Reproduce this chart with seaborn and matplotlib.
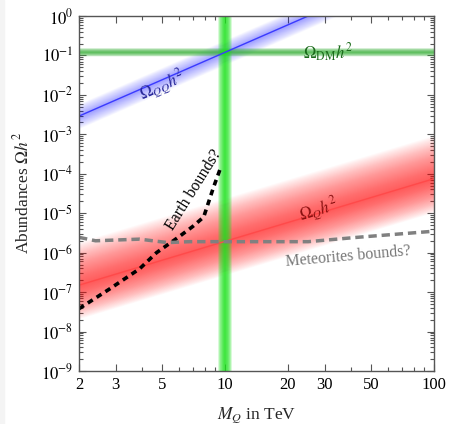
import numpy as np
import seaborn as sns
import matplotlib
matplotlib.use('Agg')
from matplotlib import pyplot as plt
from matplotlib import ticker
from matplotlib.patches import Rectangle

# abundance curves (mass in TeV, Omega h^2)
qq_mass = [2.0, 25.0]
qq_abund = [2.9e-3, 1.0]

q_mass = [2.0, 100.0]
q_abund = [1.5e-7, 7.5e-5]

dm_abund = 0.12
mass_mark = 10.0

earth_mass = [2.0, 2.8, 3.9, 4.7, 6.0, 7.0, 7.9, 8.8, 9.6]
earth_abund = [3.8e-8, 1.2e-7, 3.9e-7, 1.0e-6, 2.5e-6, 4.6e-6, 8.0e-6, 4.5e-5, 1.6e-4]

meteor_mass = [2.0, 2.4, 3.9, 5.3, 6.8, 10.0, 25.0, 43.0, 100.0]
meteor_abund = [2.45e-6, 2.0e-6, 2.2e-6, 1.8e-6, 1.9e-6, 1.9e-6, 1.9e-6, 2.45e-6, 3.5e-6]

x_ticks = [2, 3, 5, 10, 20, 30, 50, 100]
x_minor = [4, 6, 7, 8, 9, 40, 60, 70, 80, 90]
y_exps = [0, -1, -2, -3, -4, -5, -6, -7, -8, -9]

sns.set_theme(style='ticks')
plt.rcParams['font.family'] = ['Liberation Serif', 'DejaVu Serif']
plt.rcParams['mathtext.fontset'] = 'stix'


def band(ax, x, y, color, up, down, n=40, alpha=0.025):
    # soft blurred band around a power-law line, built from stacked fills
    x = np.asarray(x)
    y = np.asarray(y)
    for t in np.linspace(1.0, 0.02, n):
        ax.fill_between(x, y * 10 ** (-down * t), y * 10 ** (up * t),
                        color=color, alpha=alpha, lw=0)


fig = plt.figure(figsize=(4.5, 4.24), dpi=100)
fig.patches.append(Rectangle((0, 0), 0.009, 1, transform=fig.transFigure,
                             color='#f4f4f4', zorder=-1))
ax = fig.add_axes([0.1756, 0.125, 0.7888, 0.8373])
ax.set_xscale('log')
ax.set_yscale('log')

# red band (Omega_Q h^2)
band(ax, q_mass, q_abund, '#ff1a1a', 1.1, 0.85, n=45, alpha=0.024)
# blue band (Omega_QQ h^2), extended past the top so it is clipped by the axes
slope_qq = np.log10(qq_abund[1] / qq_abund[0]) / np.log10(qq_mass[1] / qq_mass[0])
band(ax, [qq_mass[0], 40], [qq_abund[0], qq_abund[0] * 20 ** slope_qq],
     '#2a2aff', 0.32, 0.32, n=30, alpha=0.016)
# horizontal green band (DM)
for t in np.linspace(1.0, 0.05, 20):
    ax.axhspan(dm_abund * 10 ** (-0.11 * t), dm_abund * 10 ** (0.11 * t),
               color='#3cb43c', alpha=0.075, lw=0)
# vertical green band
for t in np.linspace(1.0, 0.05, 20):
    ax.axvspan(mass_mark * 10 ** (-0.034 * t), mass_mark * 10 ** (0.034 * t),
               color='#20e620', alpha=0.085, lw=0)

sns.lineplot(x=qq_mass, y=qq_abund, ax=ax, color='#3a3aff', lw=1.0)
sns.lineplot(x=q_mass, y=q_abund, ax=ax, color='#ff4a4a', lw=1.0)
sns.lineplot(x=earth_mass, y=earth_abund, ax=ax, color='black', lw=2.6,
             linestyle=(0, (1.6, 1.3)))
sns.lineplot(x=meteor_mass, y=meteor_abund, ax=ax, color='#808080', lw=2.5,
             linestyle=(0, (2.4, 1.4)))

ax.set_xlim(2, 100)
ax.set_ylim(1e-9, 1)

ax.xaxis.set_major_locator(ticker.FixedLocator(x_ticks))
ax.xaxis.set_major_formatter(ticker.FixedFormatter([str(v) for v in x_ticks]))
ax.xaxis.set_minor_locator(ticker.FixedLocator(x_minor))
ax.xaxis.set_minor_formatter(ticker.NullFormatter())
ax.yaxis.set_major_locator(ticker.FixedLocator([10.0 ** e for e in y_exps]))
ax.yaxis.set_major_formatter(ticker.FixedFormatter(['$10^{%d}$' % e for e in y_exps]))
ax.yaxis.set_minor_locator(ticker.LogLocator(base=10, subs=np.arange(2, 10), numticks=100))
ax.yaxis.set_minor_formatter(ticker.NullFormatter())

ax.tick_params(which='both', direction='in', top=True, right=True,
               colors='#555555', labelcolor='black', labelsize=12, width=0.8)
ax.tick_params(which='major', length=5, pad=4)
ax.tick_params(which='minor', length=2.8)
for s in ax.spines.values():
    s.set_color('#555555')
    s.set_linewidth(1.0)

ax.set_xlabel('$M_Q$ in TeV', fontsize=12.5, labelpad=9)
ax.set_ylabel(r'Abundances $\mathit{\Omega} h^2$', fontsize=12.5, labelpad=6)

ax.text(5.0, 0.0175, r'$\mathit{\Omega}_{QQ}h^2$', color='#26269a', fontsize=12,
        rotation=23.5, rotation_mode='anchor', ha='center', va='center')
ax.text(31, 0.118, r'$\Omega_{\rm DM}h^2$', color='#1a6a1a', fontsize=12,
        ha='center', va='center')
ax.text(28, 1.2e-5, r'$\mathit{\Omega}_{Q}h^2$', color='#8a1010', fontsize=12,
        rotation=16.6, rotation_mode='anchor', ha='center', va='center')
ax.text(7.1, 4.0e-5, 'Earth bounds?', color='black', fontsize=11.5,
        rotation=58, rotation_mode='anchor', ha='center', va='center')
ax.text(39, 8.2e-7, 'Meteorites bounds?', color='#777777', fontsize=11.5,
        rotation=5, rotation_mode='anchor', ha='center', va='center')

plt.savefig('out.png', dpi=100)
